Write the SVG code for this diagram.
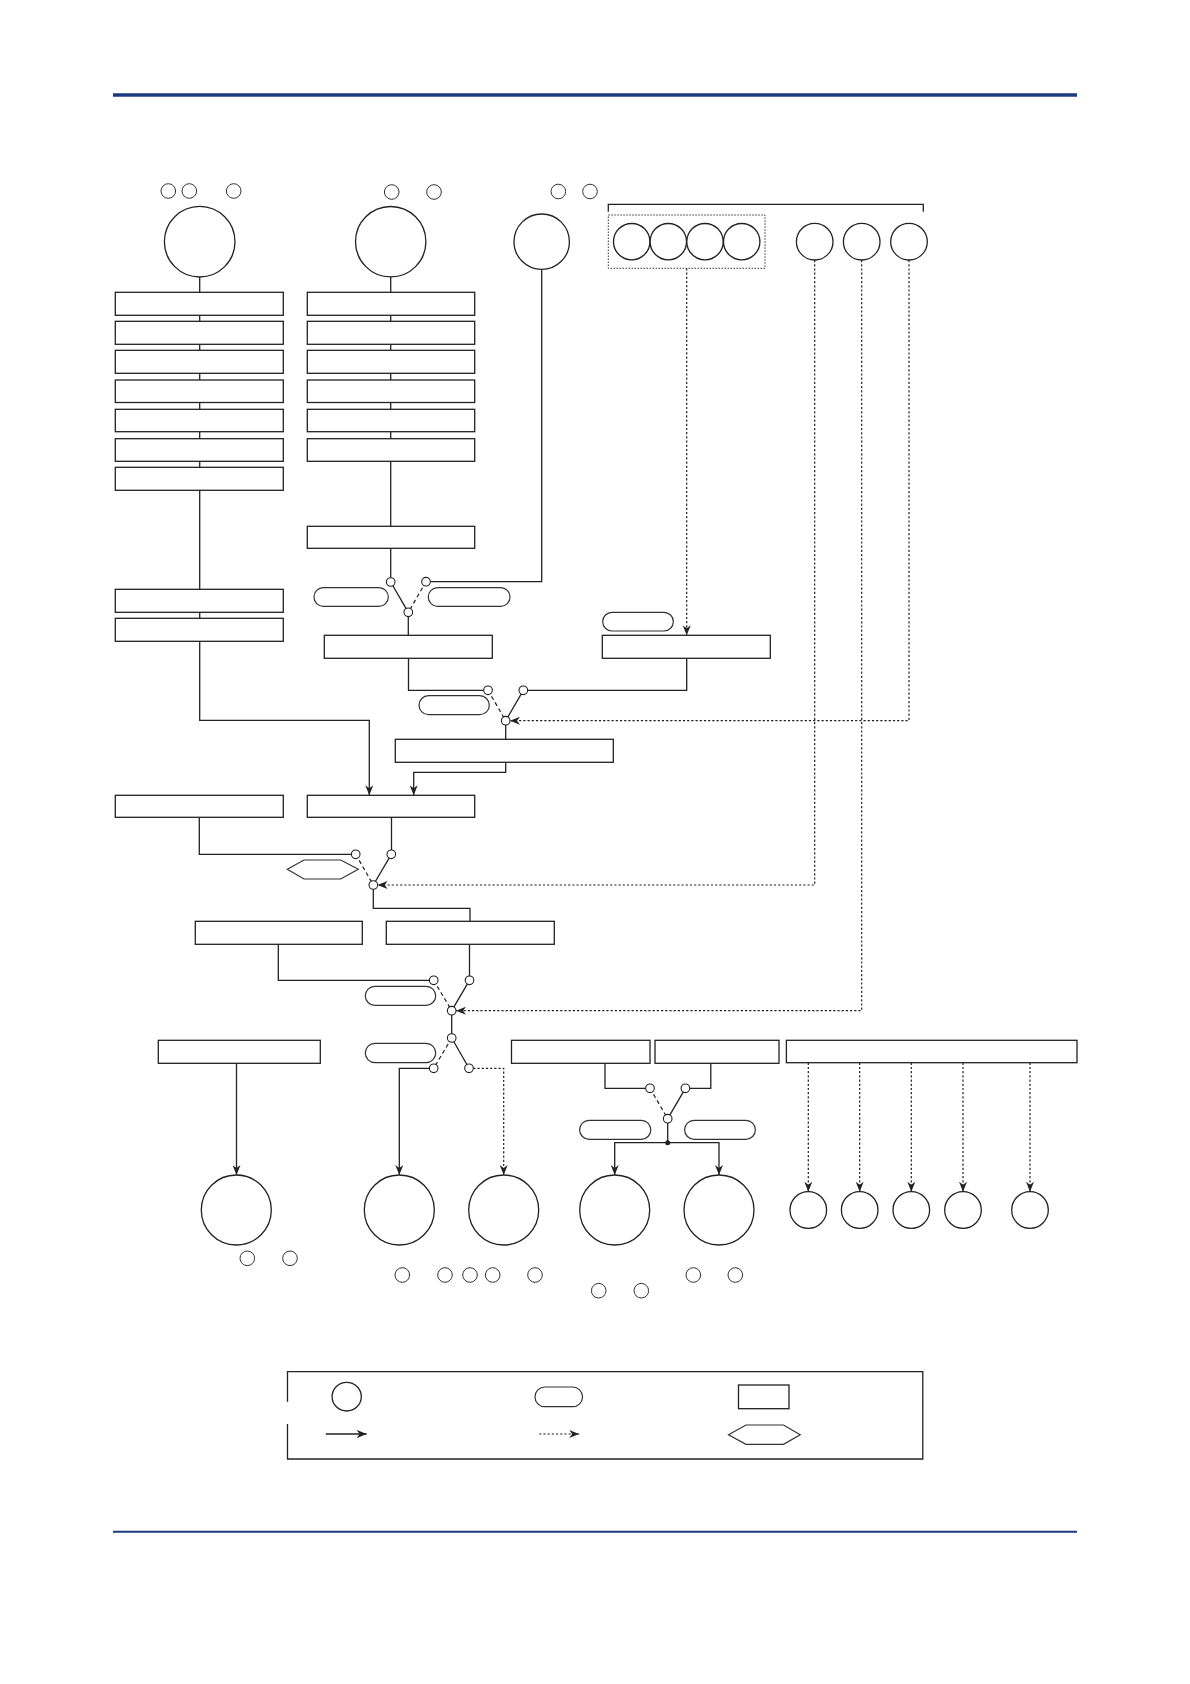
<svg xmlns="http://www.w3.org/2000/svg" width="1190" height="1684" viewBox="0 0 1190 1684">
<defs>
<style>
.n{fill:#fff;stroke:#222;stroke-width:1.3}
.s{fill:none;stroke:#222;stroke-width:1.3}
.sm{fill:#fff;stroke:#333;stroke-width:1}
.sw{fill:#fff;stroke:#222;stroke-width:1.1}
.d{fill:none;stroke:#222;stroke-width:1.2;stroke-dasharray:2.2 2}
.k{fill:none;stroke:#222;stroke-width:1.2;stroke-dasharray:4 3}
.pill{fill:#fff;stroke:#333;stroke-width:1.2}
.bar{stroke:#1b3a7f}
</style>
<marker id="ah" viewBox="0 0 10 8" refX="10" refY="4" markerWidth="10" markerHeight="8" markerUnits="userSpaceOnUse" orient="auto">
<path d="M0,0 L10,4 L0,8 L3,4 z" fill="#222"/>
</marker>
</defs>
<rect width="1190" height="1684" fill="#fff"/>
<line class="bar" x1="113" y1="95" x2="1077" y2="95" stroke-width="3.6"/>
<line class="bar" x1="113" y1="1531.8" x2="1077" y2="1531.8" stroke-width="2"/>

<g id="connectors">
<path class="s" d="M199.7,277 V720.3 H369.3 V795.3" marker-end="url(#ah)"/>
<path class="s" d="M390.7,277 V577.7"/>
<path class="s" d="M541.7,269.4 V581.7 H430.3"/>
<path class="s" d="M390.7,582 L408.3,612.3"/>
<path class="k" d="M426,581.7 L408.3,612.3"/>
<path class="s" d="M408.3,616.6 V635.3"/>
<path class="s" d="M408.5,658.3 V690.3 H483.7"/>
<path class="s" d="M686.7,658.3 V690.3 H527.6"/>
<path class="k" d="M488,690.3 L505.7,720.7"/>
<path class="s" d="M523.3,690.3 L505.7,720.7"/>
<path class="s" d="M505.7,725 V739.3"/>
<path class="s" d="M505.7,762.3 V772.3 H413.7 V795.3" marker-end="url(#ah)"/>
<path class="d" d="M686.7,268.3 V635.3" marker-end="url(#ah)"/>
<path class="d" d="M909,260 V720.7 H510" marker-end="url(#ah)"/>
<path class="s" d="M199.3,817.3 V854.3 H351.4"/>
<path class="s" d="M391.5,817.3 V850"/>
<path class="k" d="M355.7,854.3 L373.3,885"/>
<path class="s" d="M391.3,854.3 L373.3,885"/>
<path class="d" d="M814.7,260 V885 H377.6" marker-end="url(#ah)"/>
<path class="s" d="M373.3,889.3 V908.3 H470 V921.3"/>
<path class="s" d="M278.3,944.3 V980.3 H429.4"/>
<path class="s" d="M469.5,944.3 V976"/>
<path class="k" d="M433.7,980.3 L451.7,1010.7"/>
<path class="s" d="M469.5,980.3 L451.7,1010.7"/>
<path class="d" d="M861.7,260 V1010.7 H456" marker-end="url(#ah)"/>
<path class="s" d="M451.7,1010.7 V1038"/>
<path class="k" d="M451.7,1038 L433.7,1068.3"/>
<path class="s" d="M451.7,1038 L469,1068.3"/>
<path class="s" d="M429.4,1068.3 H399.3 V1175" marker-end="url(#ah)"/>
<path class="d" d="M473.3,1068.3 H503.7 V1175" marker-end="url(#ah)"/>
<path class="s" d="M236.5,1063.3 V1175" marker-end="url(#ah)"/>
<path class="s" d="M605,1063.3 V1088.3 H645.7"/>
<path class="s" d="M710.8,1063.3 V1088.3 H689.7"/>
<path class="k" d="M650,1088.3 L667.7,1118.7"/>
<path class="s" d="M685.4,1088.3 L667.7,1118.7"/>
<path class="s" d="M667.7,1118.7 V1142.7"/>
<path class="s" d="M667.7,1142.7 H614.7 V1175" marker-end="url(#ah)"/>
<path class="s" d="M667.7,1142.7 H719 V1175" marker-end="url(#ah)"/>
<circle cx="667.7" cy="1142.7" r="2.5" fill="#222"/>
<path class="d" d="M808.3,1062.7 V1191.7" marker-end="url(#ah)"/>
<path class="d" d="M859.7,1062.7 V1191.7" marker-end="url(#ah)"/>
<path class="d" d="M911.3,1062.7 V1191.7" marker-end="url(#ah)"/>
<path class="d" d="M963,1062.7 V1191.7" marker-end="url(#ah)"/>
<path class="d" d="M1030,1062.7 V1191.7" marker-end="url(#ah)"/>
</g>

<g id="top-labels">
<circle class="sm" cx="168.3" cy="191" r="7.3"/>
<circle class="sm" cx="189.3" cy="191" r="7.3"/>
<circle class="sm" cx="233.7" cy="191" r="7.3"/>
<circle class="sm" cx="391.7" cy="192" r="7.3"/>
<circle class="sm" cx="434" cy="192" r="7.3"/>
<circle class="sm" cx="558.3" cy="191.5" r="7.3"/>
<circle class="sm" cx="590" cy="191.5" r="7.3"/>
</g>
<g id="bracket"><path class="s" d="M608.3,211.7 V204.3 H923.3 V211.7"/></g>

<g id="source1"><circle class="n" cx="199.7" cy="241.7" r="35.3"/></g>
<g id="source2"><circle class="n" cx="390.7" cy="241.7" r="35.2"/></g>
<g id="source3"><circle class="n" cx="541.7" cy="241.7" r="27.7"/></g>
<g id="source-group">
<rect x="608.3" y="215" width="156.7" height="53.3" fill="none" stroke="#333" stroke-width="1" stroke-dasharray="1.5 1.5"/>
<circle class="n" cx="631.7" cy="241.7" r="18.2"/>
<circle class="n" cx="668.3" cy="241.7" r="18.2"/>
<circle class="n" cx="705" cy="241.7" r="18.2"/>
<circle class="n" cx="741.7" cy="241.7" r="18.2"/>
</g>
<g id="source4"><circle class="n" cx="814.7" cy="241.7" r="18.3"/></g>
<g id="source5"><circle class="n" cx="861.7" cy="241.7" r="18.3"/></g>
<g id="source6"><circle class="n" cx="909" cy="241.7" r="18.3"/></g>

<g id="col1">
<rect class="n" x="115.3" y="292.3" width="168" height="23"/>
<rect class="n" x="115.3" y="321.3" width="168" height="23"/>
<rect class="n" x="115.3" y="350.3" width="168" height="23"/>
<rect class="n" x="115.3" y="380" width="168" height="22.5"/>
<rect class="n" x="115.3" y="409.3" width="168" height="22.4"/>
<rect class="n" x="115.3" y="438.7" width="168" height="22.6"/>
<rect class="n" x="115.3" y="467.3" width="168" height="23"/>
<rect class="n" x="115.3" y="589.3" width="168" height="23"/>
<rect class="n" x="115.3" y="618.3" width="168" height="23"/>
</g>
<g id="col2">
<rect class="n" x="307.3" y="292.3" width="167.4" height="23"/>
<rect class="n" x="307.3" y="321.3" width="167.4" height="23"/>
<rect class="n" x="307.3" y="350.3" width="167.4" height="23"/>
<rect class="n" x="307.3" y="380" width="167.4" height="22.5"/>
<rect class="n" x="307.3" y="409.3" width="167.4" height="22.4"/>
<rect class="n" x="307.3" y="438.7" width="167.4" height="22.6"/>
<rect class="n" x="307.3" y="526.3" width="167.4" height="22"/>
</g>

<g id="switch1">
<rect class="pill" x="314" y="587.7" width="74.3" height="18.6" rx="9.3"/>
<rect class="pill" x="428.3" y="587.7" width="81.7" height="18.6" rx="9.3"/>
<circle class="sw" cx="390.7" cy="582" r="4.3"/>
<circle class="sw" cx="426" cy="581.7" r="4.3"/>
<circle class="sw" cx="408.3" cy="612.3" r="4.3"/>
</g>
<g id="box-mid1"><rect class="n" x="324.3" y="635.3" width="168" height="23"/></g>
<g id="box-mid2">
<rect class="pill" x="602.7" y="612.3" width="70.6" height="18.7" rx="9.3"/>
<rect class="n" x="602.3" y="635.3" width="168" height="23"/>
</g>
<g id="switch2">
<rect class="pill" x="419" y="695.7" width="70.3" height="19" rx="9.5"/>
<circle class="sw" cx="488" cy="690.3" r="4.3"/>
<circle class="sw" cx="523.3" cy="690.3" r="4.3"/>
<circle class="sw" cx="505.7" cy="720.7" r="4.3"/>
</g>
<g id="box-mid3"><rect class="n" x="395.3" y="739.3" width="218" height="23"/></g>
<g id="box-row3a"><rect class="n" x="115.3" y="795.3" width="168" height="22"/></g>
<g id="box-row3b"><rect class="n" x="307.3" y="795.3" width="167.4" height="22"/></g>
<g id="switch3">
<polygon class="pill" points="287.3,869.3 304,860 340.7,860 358.3,869.3 340.7,879 304,879"/>
<circle class="sw" cx="355.7" cy="854.3" r="4.3"/>
<circle class="sw" cx="391.3" cy="854.3" r="4.3"/>
<circle class="sw" cx="373.3" cy="885" r="4.3"/>
</g>
<g id="box-row4a"><rect class="n" x="195.3" y="921.3" width="167" height="23"/></g>
<g id="box-row4b"><rect class="n" x="386.3" y="921.3" width="168" height="23"/></g>
<g id="switch4">
<rect class="pill" x="365.3" y="986.3" width="70.4" height="19" rx="9.5"/>
<circle class="sw" cx="433.7" cy="980.3" r="4.3"/>
<circle class="sw" cx="469.5" cy="980.3" r="4.3"/>
<circle class="sw" cx="451.7" cy="1010.7" r="4.3"/>
</g>
<g id="switch5">
<rect class="pill" x="365.3" y="1043.3" width="70.4" height="19.4" rx="9.7"/>
<circle class="sw" cx="451.7" cy="1038" r="4.3"/>
<circle class="sw" cx="433.7" cy="1068.3" r="4.3"/>
<circle class="sw" cx="469" cy="1068.3" r="4.3"/>
</g>
<g id="box-row5a"><rect class="n" x="158.3" y="1040.3" width="162" height="23"/></g>
<g id="box-row5b"><rect class="n" x="511.5" y="1040.3" width="138.5" height="23"/></g>
<g id="box-row5c"><rect class="n" x="655" y="1040.3" width="124" height="23"/></g>
<g id="box-row5d"><rect class="n" x="786.4" y="1040.3" width="290.6" height="22.4"/></g>
<g id="switch6">
<rect class="pill" x="579.6" y="1120.3" width="71.2" height="19" rx="9.5"/>
<rect class="pill" x="684.6" y="1120.3" width="70.8" height="19" rx="9.5"/>
<circle class="sw" cx="650" cy="1088.3" r="4.3"/>
<circle class="sw" cx="685.4" cy="1088.3" r="4.3"/>
<circle class="sw" cx="667.7" cy="1118.7" r="4.3"/>
</g>

<g id="out1"><circle class="n" cx="236.3" cy="1210" r="35"/></g>
<g id="out2"><circle class="n" cx="399.3" cy="1210" r="35"/></g>
<g id="out3"><circle class="n" cx="503.7" cy="1210" r="35"/></g>
<g id="out4"><circle class="n" cx="614.7" cy="1210" r="35"/></g>
<g id="out5"><circle class="n" cx="719" cy="1210" r="35"/></g>
<g id="out6"><circle class="n" cx="808.3" cy="1210" r="18.3"/></g>
<g id="out7"><circle class="n" cx="859.7" cy="1210" r="18.3"/></g>
<g id="out8"><circle class="n" cx="911.3" cy="1210" r="18.3"/></g>
<g id="out9"><circle class="n" cx="963" cy="1210" r="18.3"/></g>
<g id="out10"><circle class="n" cx="1030" cy="1210" r="18.3"/></g>

<g id="bottom-labels">
<circle class="sm" cx="247.3" cy="1258.3" r="7.3"/>
<circle class="sm" cx="290" cy="1258.3" r="7.3"/>
<circle class="sm" cx="402.3" cy="1275" r="7.3"/>
<circle class="sm" cx="445" cy="1275" r="7.3"/>
<circle class="sm" cx="470" cy="1275" r="7.3"/>
<circle class="sm" cx="492.7" cy="1275" r="7.3"/>
<circle class="sm" cx="535" cy="1275" r="7.3"/>
<circle class="sm" cx="598.7" cy="1290.7" r="7.3"/>
<circle class="sm" cx="641.3" cy="1290.7" r="7.3"/>
<circle class="sm" cx="693.3" cy="1275" r="7.3"/>
<circle class="sm" cx="735.3" cy="1275" r="7.3"/>
</g>

<g id="legend">
<path class="s" d="M287.5,1401.7 V1371.7 H922.8 V1459 H287.5 V1424"/>
<ellipse class="n" cx="346.7" cy="1396.7" rx="14.6" ry="14.3"/>
<rect class="pill" x="535" y="1387" width="47.5" height="19.7" rx="9.8"/>
<rect class="n" x="738.5" y="1385" width="50.5" height="23.7"/>
<path class="s" d="M325.8,1434 H366.7" marker-end="url(#ah)"/>
<path class="d" d="M539.2,1434 H579.2" marker-end="url(#ah)"/>
<polygon class="pill" points="728.5,1434.7 746,1425 783.5,1425 800.2,1434.7 783.5,1444.3 746,1444.3"/>
</g>
</svg>
